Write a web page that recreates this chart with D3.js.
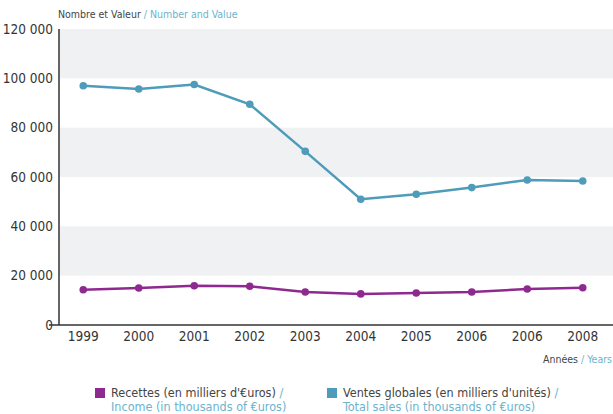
<!DOCTYPE html>
<html><head><meta charset="utf-8">
<script src="https://cdn.jsdelivr.net/npm/d3@7"></script>
<style>
body{margin:0;background:#fff;}
text{font-family:"Liberation Sans Narrow","DejaVu Sans Condensed","Roboto",sans-serif;}
</style></head>
<body><svg id="c" width="613" height="414"></svg>
<script>
const years = ["1999","2000","2001","2002","2003","2004","2005","2006","2006","2008"];
const sales = [97000,95700,97500,89500,70400,51000,53000,55700,58800,58400];
const income = [14300,15000,15900,15700,13400,12600,13000,13400,14600,15100];
const yTicks = [0,20000,40000,60000,80000,100000,120000];
const seriesNames = [
  {fr:"Recettes (en milliers d'€uros)", en:"Income (in thousands of €uros)", color:"#8e2a8f"},
  {fr:"Ventes globales (en milliers d'unités)", en:"Total sales (in thousands of €uros)", color:"#4e9cba"}
];

(function(){
const svg = d3.select("#c");
const mLeft = 59, mRight = 613, mTop = 29, mBottom = 325;
const x = d3.scalePoint().domain(d3.range(years.length)).range([55.5,610.5]).padding(0.5);
const y = d3.scaleLinear().domain([0,120000]).range([mBottom, mTop]);

const bands = [[20000,40000],[60000,80000],[100000,120000]];
svg.selectAll("rect.band").data(bands).enter().append("rect")
  .attr("x", mLeft).attr("width", mRight-mLeft)
  .attr("y", d=>y(d[1])).attr("height", d=>y(d[0])-y(d[1]))
  .attr("fill","#f0f1f3");

svg.append("line").attr("x1",mLeft).attr("x2",mLeft).attr("y1",mTop).attr("y2",mBottom).attr("stroke","#333").attr("stroke-width",1.5);
svg.append("line").attr("x1",49).attr("x2",mRight).attr("y1",mBottom).attr("y2",mBottom).attr("stroke","#333").attr("stroke-width",1.5);

const fmt = v => v===0 ? "0" : d3.format(",")(v).replace(",", " ");
svg.selectAll("text.yt").data(yTicks).enter().append("text")
  .attr("x",53).attr("y",d=>y(d)+4.5).attr("text-anchor","end")
  .attr("font-size",13.5).attr("fill","#333").text(fmt);

svg.selectAll("text.xt").data(years).enter().append("text")
  .attr("x",(d,i)=>x(i)).attr("y",341).attr("text-anchor","middle")
  .attr("font-size",13.5).attr("fill","#333").text(d=>d);

const t = svg.append("text").attr("x",58).attr("y",18).attr("font-size",10.5);
t.append("tspan").attr("fill","#444").text("Nombre et Valeur ");
t.append("tspan").attr("fill","#6db3cc").text("/ Number and Value");

const a = svg.append("text").attr("x",612).attr("y",363).attr("text-anchor","end").attr("font-size",10.5);
a.append("tspan").attr("fill","#444").text("Années ");
a.append("tspan").attr("fill","#6db3cc").text("/ Years");

const line = d3.line().x((d,i)=>x(i)).y(d=>y(d));
[[income,seriesNames[0].color],[sales,seriesNames[1].color]].forEach(([data,col])=>{
  svg.append("path").datum(data).attr("d",line).attr("fill","none").attr("stroke",col).attr("stroke-width",2.5);
  svg.selectAll(null).data(data).enter().append("circle")
    .attr("cx",(d,i)=>x(i)).attr("cy",d=>y(d)).attr("r",3.8).attr("fill",col);
});

const lx = [95, 327];
seriesNames.forEach((s,i)=>{
  svg.append("rect").attr("x",lx[i]).attr("y",388).attr("width",10).attr("height",10).attr("fill",s.color);
  const tt = svg.append("text").attr("x",lx[i]+16).attr("y",397).attr("font-size",12.5);
  tt.append("tspan").attr("fill","#444").text(s.fr+" ");
  tt.append("tspan").attr("fill","#6db3cc").text("/");
  svg.append("text").attr("x",lx[i]+16).attr("y",411).attr("font-size",12.5).attr("fill","#6db3cc").text(s.en);
});
})();
</script></body></html>
